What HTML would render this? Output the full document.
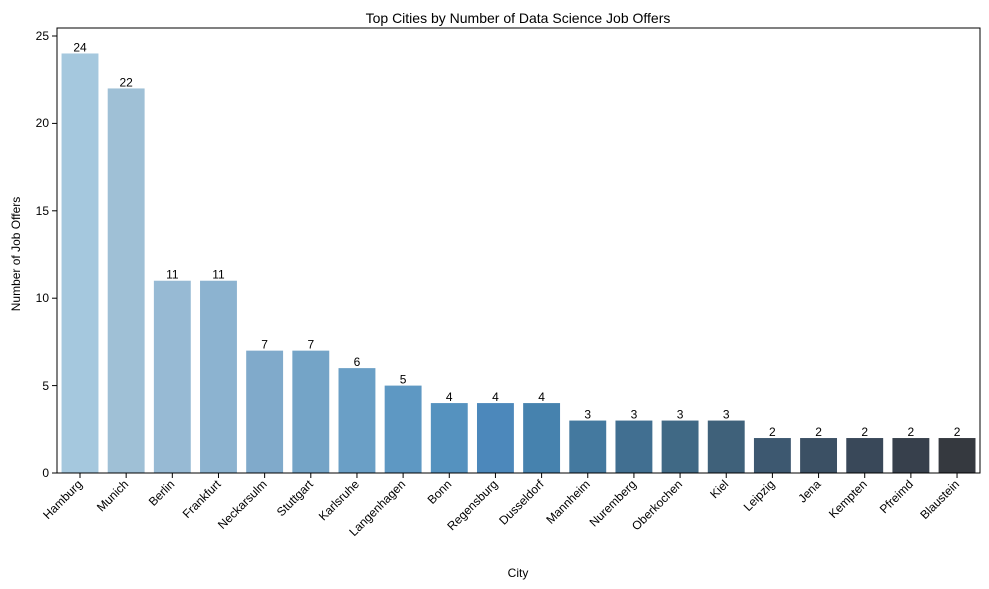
<!DOCTYPE html>
<html><head><style>body{margin:0;background:#fff}svg{display:block}text{font-family:"Liberation Sans",sans-serif;fill:#000}</style></head>
<body>
<svg width="989" height="589" viewBox="0 0 989 589" xmlns="http://www.w3.org/2000/svg">
<text x="518" y="23" font-size="14" text-anchor="middle">Top Cities by Number of Data Science Job Offers</text>
<g id="g"></g>
<rect x="57" y="28" width="923" height="445" fill="none" stroke="#000" stroke-width="1"/>
<g font-size="12" text-anchor="end">
<line x1="52" y1="473" x2="57" y2="473" stroke="#000"/><text x="49" y="477">0</text>
<line x1="52" y1="385.6" x2="57" y2="385.6" stroke="#000"/><text x="49" y="390">5</text>
<line x1="52" y1="298.2" x2="57" y2="298.2" stroke="#000"/><text x="49" y="302">10</text>
<line x1="52" y1="210.8" x2="57" y2="210.8" stroke="#000"/><text x="49" y="215">15</text>
<line x1="52" y1="123.4" x2="57" y2="123.4" stroke="#000"/><text x="49" y="127">20</text>
<line x1="52" y1="36" x2="57" y2="36" stroke="#000"/><text x="49" y="40">25</text>
</g>
<text transform="translate(20,254) rotate(-90)" font-size="12" text-anchor="middle">Number of Job Offers</text>
<text x="518" y="577" font-size="12" text-anchor="middle">City</text>
</svg>
<script>
const d=[["Hamburg",24,"#a5c8de"],["Munich",22,"#9fc0d6"],["Berlin",11,"#97bad4"],["Frankfurt",11,"#8cb3d0"],["Neckarsulm",7,"#80aacb"],["Stuttgart",7,"#74a4c7"],["Karlsruhe",6,"#6a9fc6"],["Langenhagen",5,"#5e98c3"],["Bonn",4,"#5592bf"],["Regensburg",4,"#4c88bb"],["Dusseldorf",4,"#4682ae"],["Mannheim",3,"#44799f"],["Nuremberg",3,"#416f91"],["Oberkochen",3,"#406985"],["Kiel",3,"#3f617a"],["Leipzig",2,"#3d5870"],["Jena",2,"#3b5064"],["Kempten",2,"#394859"],["Pfreimd",2,"#37404c"],["Blaustein",2,"#35393f"]];
let s="";const u=17.48,sp=46.16;
d.forEach((b,i)=>{const c=80+i*sp,h=b[1]*u,y=473-h;
s+=`<rect x="${c-18.45}" y="${y}" width="36.9" height="${h}" fill="${b[2]}"/>`;
s+=`<text x="${c}" y="${y-2}" font-size="12" text-anchor="middle">${b[1]}</text>`;
s+=`<line x1="${c}" y1="473" x2="${c}" y2="478" stroke="#000"/>`;
s+=`<text transform="translate(${c-3},${479}) rotate(-45)" font-size="12" text-anchor="end" dy="0.7em">${b[0]}</text>`;});
document.getElementById("g").innerHTML=s;
</script>
</body></html>
